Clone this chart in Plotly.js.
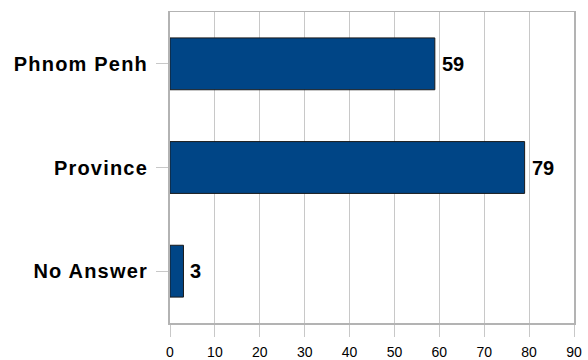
<!DOCTYPE html>
<html>
<head>
<meta charset="utf-8">
<script src="https://cdn.plot.ly/plotly-3.0.1.min.js"></script>
<style>
  html, body { margin: 0; padding: 0; background: #fff; }
  #chart { width: 588px; height: 360px; }
  /* slightly spaced-out category labels */
  #chart .ytick text { letter-spacing: 1.2px; }
</style>
</head>
<body>
<div id="chart"></div>
<script>
// Respondents by place of residence
const categories = ['Phnom Penh', 'Province', 'No Answer'];
const counts = [59, 79, 3];
const xTicks = [0, 10, 20, 30, 40, 50, 60, 70, 80, 90];

const barColor = '#004586';
const gridColor = '#c8c8c8';
const axisColor = '#b3b3b3';
const fontFamily = '"Liberation Sans", Arial, sans-serif';

const trace = {
  type: 'bar',
  orientation: 'h',
  y: categories,
  x: counts,
  width: 0.5,
  marker: { color: barColor, line: { color: '#1a1a1a', width: 1 } },
  hoverinfo: 'x+y'
};

// Value labels just right of each bar end
const annotations = categories.map((c, i) => ({
  x: counts[i],
  y: c,
  xref: 'x',
  yref: 'y',
  text: '<b>' + counts[i] + '</b>',
  showarrow: false,
  xanchor: 'left',
  yanchor: 'middle',
  xshift: 5,
  font: { family: fontFamily, size: 20, color: '#000' }
}));

const layout = {
  width: 588,
  height: 360,
  margin: { l: 170, r: 14, t: 12, b: 37, pad: 0 },
  paper_bgcolor: '#fff',
  plot_bgcolor: '#fff',
  showlegend: false,
  font: { family: fontFamily, color: '#000' },
  xaxis: {
    range: [0, 90],
    tickvals: xTicks,
    ticktext: xTicks.map(String),
    showgrid: true,
    gridcolor: gridColor,
    gridwidth: 1,
    zeroline: false,
    showline: true,
    linecolor: axisColor,
    linewidth: 1.5,
    mirror: true,
    ticks: 'outside',
    ticklen: 12,
    tickcolor: gridColor,
    tickwidth: 1,
    tickfont: { family: fontFamily, size: 14, color: '#000' },
    ticklabelstandoff: 4,
    fixedrange: true
  },
  yaxis: {
    categoryorder: 'array',
    categoryarray: categories.slice().reverse(),
    range: [-0.5, 2.5],
    showgrid: false,
    zeroline: false,
    showline: true,
    linecolor: axisColor,
    linewidth: 2,
    mirror: true,
    ticks: 'outside',
    ticklen: 12,
    tickcolor: gridColor,
    tickwidth: 1,
    tickfont: { family: fontFamily, size: 20, color: '#000', weight: 'bold' },
    ticklabelstandoff: 4,
    fixedrange: true
  },
  annotations: annotations
};

Plotly.newPlot('chart', [trace], layout, { displayModeBar: false, staticPlot: true });
</script>
</body>
</html>
